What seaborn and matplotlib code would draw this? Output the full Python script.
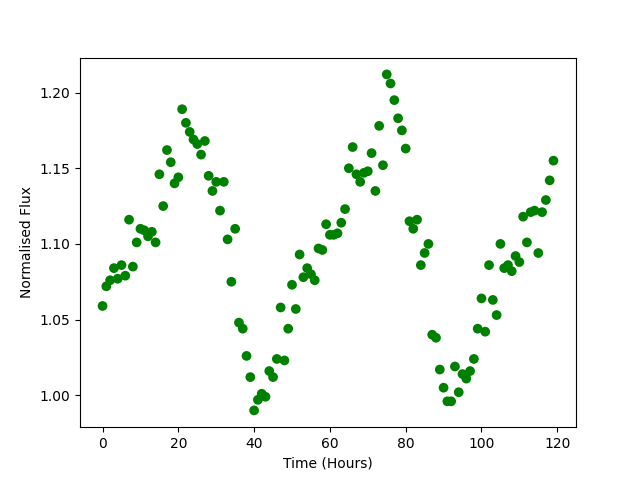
import numpy as np
import pandas as pd
import matplotlib
matplotlib.use("Agg")
import matplotlib.pyplot as plt
import seaborn as sns

# hourly samples of normalised flux
hours = list(range(120))
flux = [
    1.059, 1.072, 1.076, 1.084, 1.077, 1.086, 1.079, 1.116, 1.085, 1.101,
    1.110, 1.109, 1.105, 1.108, 1.101, 1.146, 1.125, 1.162, 1.154, 1.140,
    1.144, 1.189, 1.180, 1.174, 1.169, 1.166, 1.159, 1.168, 1.145, 1.135,
    1.141, 1.122, 1.141, 1.103, 1.075, 1.110, 1.048, 1.044, 1.026, 1.012,
    0.990, 0.997, 1.001, 0.999, 1.016, 1.012, 1.024, 1.058, 1.023, 1.044,
    1.073, 1.057, 1.093, 1.078, 1.084, 1.080, 1.076, 1.097, 1.096, 1.113,
    1.106, 1.106, 1.107, 1.114, 1.123, 1.150, 1.164, 1.146, 1.141, 1.147,
    1.148, 1.160, 1.135, 1.178, 1.152, 1.212, 1.206, 1.195, 1.183, 1.175,
    1.163, 1.115, 1.110, 1.116, 1.086, 1.094, 1.100, 1.040, 1.038, 1.017,
    1.005, 0.996, 0.996, 1.019, 1.002, 1.014, 1.011, 1.016, 1.024, 1.044,
    1.064, 1.042, 1.086, 1.063, 1.053, 1.100, 1.084, 1.086, 1.082, 1.092,
    1.088, 1.118, 1.101, 1.121, 1.122, 1.094, 1.121, 1.129, 1.142, 1.155,
]

dat = pd.DataFrame({"time": hours, "flux": flux})

fig, ax = plt.subplots(figsize=(6.4, 4.8), dpi=100)
sns.scatterplot(data=dat, x="time", y="flux", color="green", s=49,
                edgecolor="none", ax=ax)
ax.set_xlabel("Time (Hours)")
ax.set_ylabel("Normalised Flux")
plt.savefig("out.png", dpi=100)
